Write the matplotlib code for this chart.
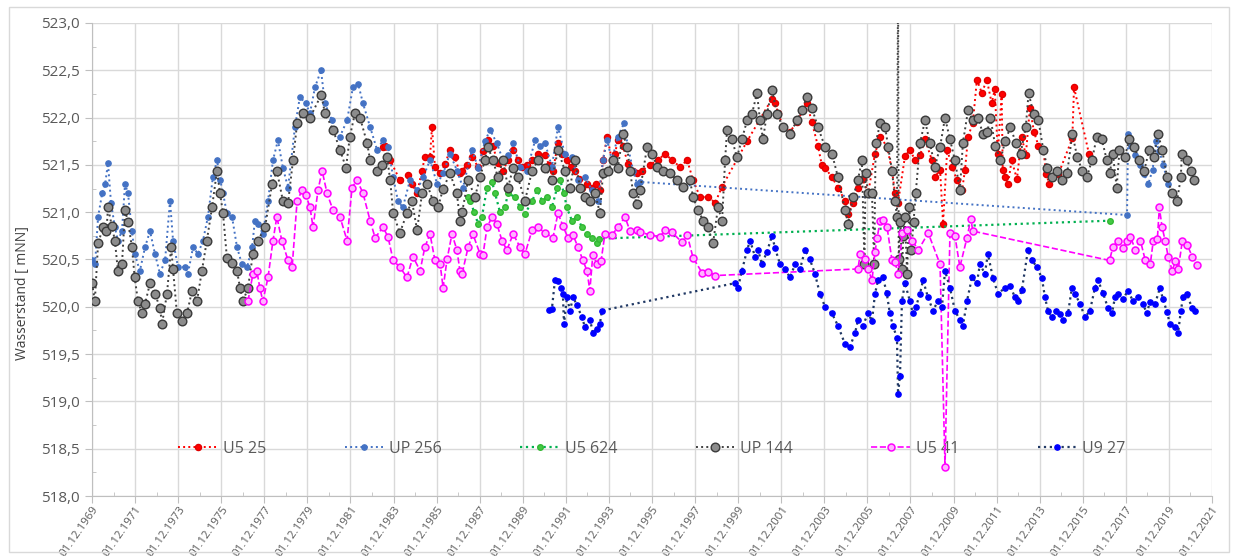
import matplotlib
matplotlib.use('Agg')
import matplotlib.pyplot as plt
from matplotlib.ticker import FixedLocator, MultipleLocator, FuncFormatter
from matplotlib.patches import Rectangle
import numpy as np

plt.rcParams['font.family'] = ['Open Sans', 'DejaVu Sans']

u5_25 = [(1983.43, 521.69), (1983.52, 521.70), (1983.76, 521.55), (1984.21, 521.34), (1984.59, 521.39),
         (1984.77, 521.30), (1985.01, 521.20), (1985.24, 521.44), (1985.37, 521.58), (1985.61, 521.58),
         (1985.70, 521.90), (1985.84, 521.48), (1986.08, 521.41), (1986.31, 521.51), (1986.54, 521.66),
         (1986.77, 521.58), (1987.00, 521.41), (1987.10, 521.44), (1987.33, 521.50), (1987.56, 521.58),
         (1987.84, 521.48), (1988.07, 521.65), (1988.30, 521.76), (1988.53, 521.70), (1988.76, 521.52),
         (1989.00, 521.44), (1989.23, 521.55), (1989.47, 521.66), (1989.69, 521.55), (1989.88, 521.48),
         (1990.11, 521.50), (1990.35, 521.55), (1990.63, 521.62), (1990.95, 521.60), (1991.14, 521.50),
         (1991.32, 521.44), (1991.55, 521.73), (1991.74, 521.62), (1991.96, 521.55), (1992.15, 521.48),
         (1992.34, 521.44), (1992.53, 521.35), (1992.67, 521.26), (1992.90, 521.30), (1993.13, 521.26),
         (1993.31, 521.30), (1993.50, 521.23), (1993.64, 521.55), (1993.83, 521.80), (1994.06, 521.55),
         (1994.20, 521.62), (1994.33, 521.76), (1994.57, 521.70), (1994.80, 521.51), (1995.04, 521.44),
         (1995.22, 521.41), (1995.45, 521.44), (1995.82, 521.50), (1996.20, 521.55), (1996.52, 521.62),
         (1996.84, 521.55), (1997.22, 521.48), (1997.55, 521.55), (1997.82, 521.34), (1998.15, 521.16),
         (1998.52, 521.16), (1998.85, 521.10), (1999.17, 521.27), (2000.33, 521.75), (2001.49, 522.20),
         (2001.63, 522.15), (2001.77, 522.05), (2002.01, 521.90), (2002.31, 521.85), (2002.66, 521.95),
         (2002.91, 522.08), (2003.11, 522.15), (2003.34, 521.95), (2003.62, 521.70), (2003.80, 521.50),
         (2003.95, 521.47), (2004.27, 521.37), (2004.55, 521.26), (2004.88, 521.12), (2005.02, 520.98),
         (2005.25, 521.10), (2005.48, 521.26), (2005.71, 521.35), (2005.95, 521.20), (2006.27, 521.62),
         (2006.51, 521.80), (2006.83, 521.69), (2007.06, 521.44), (2007.20, 521.20), (2007.34, 521.10),
         (2007.66, 521.59), (2007.89, 521.66), (2008.13, 521.55), (2008.36, 521.60), (2008.59, 521.77),
         (2008.91, 521.55), (2009.05, 521.37), (2009.29, 521.45), (2009.43, 520.88), (2009.62, 521.66),
         (2009.85, 521.48), (2010.07, 521.34), (2010.31, 521.23), (2010.45, 521.45), (2010.59, 521.80),
         (2010.81, 521.94), (2011.00, 522.40), (2011.23, 522.26), (2011.46, 522.40), (2011.69, 522.15),
         (2011.83, 522.30), (2011.97, 521.62), (2012.15, 522.25), (2012.20, 521.45), (2012.30, 521.37),
         (2012.45, 521.30), (2012.61, 521.55), (2012.86, 521.35), (2013.08, 521.80), (2013.27, 521.60),
         (2013.46, 522.10), (2013.65, 521.85), (2013.86, 521.70), (2014.08, 521.66), (2014.22, 521.40),
         (2014.36, 521.30), (2014.78, 521.40), (2015.43, 521.78), (2015.51, 522.32), (2016.20, 521.62)]

up_256 = [(1969.92, 520.49), (1970.06, 520.45), (1970.20, 520.95), (1970.39, 521.20), (1970.53, 521.30),
          (1970.66, 521.52), (1970.80, 521.10), (1970.98, 520.84), (1971.12, 520.70), (1971.31, 520.80),
          (1971.45, 521.30), (1971.59, 521.20), (1971.77, 520.80), (1971.90, 520.56), (1972.14, 520.38),
          (1972.38, 520.63), (1972.61, 520.80), (1972.84, 520.56), (1973.07, 520.35), (1973.31, 520.49),
          (1973.54, 521.12), (1973.68, 520.70), (1973.91, 520.42), (1974.23, 520.42), (1974.37, 520.35),
          (1974.61, 520.63), (1974.84, 520.56), (1975.07, 520.70), (1975.30, 520.95), (1975.53, 521.37),
          (1975.72, 521.55), (1975.87, 521.34), (1976.00, 521.20), (1976.18, 520.99), (1976.42, 520.95),
          (1976.65, 520.63), (1976.88, 520.45), (1977.12, 520.42), (1977.35, 520.63), (1977.48, 520.91),
          (1977.62, 520.88), (1977.85, 520.77), (1978.09, 521.12), (1978.32, 521.55), (1978.55, 521.76),
          (1978.78, 521.47), (1979.02, 521.26), (1979.34, 521.90), (1979.57, 522.22), (1979.83, 522.15),
          (1980.04, 522.05), (1980.27, 522.32), (1980.55, 522.50), (1980.73, 522.15), (1981.06, 521.97),
          (1981.43, 521.80), (1981.76, 521.97), (1982.03, 522.32), (1982.27, 522.36), (1982.50, 522.15),
          (1982.83, 521.90), (1983.15, 521.66), (1983.43, 521.76), (1983.66, 521.69), (1983.90, 521.37),
          (1984.12, 521.12), (1984.35, 521.05), (1984.68, 521.34), (1985.01, 521.23), (1985.29, 521.37),
          (1985.61, 521.55), (1985.94, 521.30), (1986.22, 521.41), (1986.54, 521.62), (1986.86, 521.44),
          (1987.14, 521.26), (1987.56, 521.66), (1987.84, 521.47), (1988.16, 521.75), (1988.40, 521.87),
          (1988.71, 521.73), (1989.00, 521.55), (1989.23, 521.60), (1989.47, 521.73), (1989.79, 521.48),
          (1990.11, 521.44), (1990.49, 521.76), (1990.72, 521.70), (1990.95, 521.73), (1991.27, 521.48),
          (1991.55, 521.90), (1991.87, 521.62), (1992.20, 521.58), (1992.48, 521.34), (1992.81, 521.37),
          (1993.13, 521.23), (1993.41, 521.12), (1993.64, 521.55), (1993.83, 521.76), (1994.06, 521.55),
          (1994.33, 521.80), (1994.62, 521.94), (1994.80, 521.69), (1995.04, 521.44), (1995.22, 521.30),
          (1995.36, 521.32), (2017.97, 520.97), (2018.02, 521.83), (2018.16, 521.70), (2018.36, 521.60),
          (2018.56, 521.50), (2018.76, 521.40), (2018.96, 521.30), (2019.16, 521.45), (2019.31, 521.75),
          (2019.46, 521.65), (2019.66, 521.50), (2019.86, 521.30), (2020.01, 521.20)]

u5_624 = [(1987.38, 521.16), (1987.48, 521.12), (1987.66, 521.00), (1987.84, 520.88), (1988.02, 520.95),
          (1988.26, 521.26), (1988.49, 521.32), (1988.63, 521.20), (1988.86, 521.00), (1989.09, 521.05),
          (1989.23, 521.20), (1989.56, 521.16), (1989.79, 521.05), (1990.02, 520.98), (1990.35, 521.12),
          (1990.58, 521.23), (1990.82, 521.12), (1991.05, 521.16), (1991.27, 521.05), (1991.51, 521.26),
          (1991.65, 521.34), (1991.83, 521.20), (1991.96, 521.05), (1992.20, 520.91), (1992.43, 520.95),
          (1992.67, 520.84), (1992.90, 520.77), (1993.13, 520.73), (1993.36, 520.67), (1993.45, 520.72),
          (2017.17, 520.91)]

up_144 = [(1969.92, 520.25), (1970.05, 520.06), (1970.20, 520.67), (1970.43, 520.84), (1970.59, 520.80),
          (1970.66, 521.05), (1970.84, 520.85), (1970.98, 520.70), (1971.12, 520.38), (1971.31, 520.45),
          (1971.45, 521.02), (1971.59, 520.90), (1971.77, 520.63), (1971.90, 520.31), (1972.05, 520.06),
          (1972.24, 519.93), (1972.38, 520.03), (1972.61, 520.25), (1972.84, 520.14), (1973.07, 519.99),
          (1973.17, 519.82), (1973.40, 520.14), (1973.59, 520.63), (1973.68, 520.40), (1973.86, 519.93),
          (1974.09, 519.85), (1974.33, 519.93), (1974.56, 520.17), (1974.79, 520.06), (1975.02, 520.38),
          (1975.25, 520.70), (1975.49, 521.05), (1975.72, 521.44), (1975.86, 521.20), (1976.00, 520.99),
          (1976.18, 520.52), (1976.42, 520.46), (1976.65, 520.38), (1976.79, 520.20), (1976.93, 520.06),
          (1977.16, 520.20), (1977.39, 520.56), (1977.62, 520.70), (1977.95, 520.84), (1978.28, 521.30),
          (1978.50, 521.44), (1978.78, 521.12), (1979.02, 521.10), (1979.25, 521.55), (1979.44, 521.94),
          (1979.71, 522.05), (1980.04, 522.00), (1980.56, 522.24), (1980.73, 522.05), (1981.11, 521.87),
          (1981.43, 521.66), (1981.71, 521.47), (1981.89, 521.80), (1982.13, 522.05), (1982.36, 522.00),
          (1982.69, 521.73), (1982.83, 521.55), (1983.15, 521.44), (1983.38, 521.50), (1983.62, 521.58),
          (1983.76, 521.34), (1983.90, 520.99), (1984.21, 520.78), (1984.54, 520.99), (1984.77, 521.12),
          (1985.01, 520.81), (1985.24, 521.20), (1985.47, 521.30), (1985.75, 521.12), (1985.98, 521.05),
          (1986.22, 521.25), (1986.54, 521.41), (1986.86, 521.20), (1987.00, 520.91), (1987.10, 521.00),
          (1987.38, 521.34), (1987.70, 521.16), (1987.93, 521.37), (1988.16, 521.55), (1988.30, 521.69),
          (1988.53, 521.55), (1988.76, 521.37), (1989.00, 521.55), (1989.23, 521.26), (1989.47, 521.47),
          (1989.69, 521.37), (1990.02, 521.12), (1990.35, 521.44), (1990.63, 521.55), (1990.95, 521.47),
          (1991.27, 521.34), (1991.55, 521.66), (1991.87, 521.44), (1992.11, 521.26), (1992.34, 521.55),
          (1992.58, 521.26), (1992.81, 521.16), (1993.03, 521.12), (1993.27, 521.20), (1993.50, 520.99),
          (1993.64, 521.41), (1993.88, 521.44), (1994.10, 521.55), (1994.33, 521.47), (1994.57, 521.83),
          (1994.76, 521.69), (1994.90, 521.44), (1995.04, 521.20), (1995.22, 521.09), (1995.36, 521.23),
          (1995.69, 521.69), (1995.92, 521.62), (1996.15, 521.48), (1996.42, 521.44), (1996.75, 521.41),
          (1997.08, 521.34), (1997.36, 521.27), (1997.68, 521.34), (1997.82, 521.16), (1998.06, 521.02),
          (1998.29, 520.91), (1998.52, 520.84), (1998.75, 520.67), (1998.98, 521.05), (1999.17, 520.91),
          (1999.31, 521.55), (1999.40, 521.87), (1999.63, 521.77), (1999.86, 521.58), (2000.09, 521.77),
          (2000.33, 521.97), (2000.56, 522.04), (2000.79, 522.26), (2000.93, 521.97), (2001.07, 521.77),
          (2001.25, 522.04), (2001.49, 522.29), (2001.72, 522.04), (2001.99, 521.90), (2002.32, 521.83),
          (2002.65, 521.97), (2002.88, 522.08), (2003.11, 522.22), (2003.34, 522.10), (2003.62, 521.90),
          (2003.95, 521.69), (2004.27, 521.62), (2004.55, 521.37), (2004.88, 521.02), (2005.02, 520.88),
          (2005.25, 521.16), (2005.48, 521.34), (2005.66, 521.55), (2005.78, 520.45), (2005.83, 521.41),
          (2005.95, 521.20), (2006.13, 521.20), (2006.23, 520.45), (2006.30, 521.73), (2006.51, 521.94),
          (2006.74, 521.90), (2006.88, 521.69), (2007.06, 521.44), (2007.20, 521.12), (2007.29, 520.95),
          (2007.34, 523.50), (2007.37, 520.50), (2007.45, 520.90), (2007.52, 520.40), (2007.59, 520.75),
          (2007.66, 520.95), (2007.76, 520.35), (2007.86, 521.05), (2007.96, 520.60), (2008.06, 520.90),
          (2008.16, 521.20), (2008.36, 521.73), (2008.59, 521.97), (2008.82, 521.73), (2009.05, 521.48),
          (2009.29, 521.69), (2009.52, 522.00), (2009.75, 521.77), (2009.98, 521.55), (2010.21, 521.23),
          (2010.35, 521.73), (2010.59, 522.08), (2010.81, 521.97), (2011.05, 522.00), (2011.28, 521.83),
          (2011.48, 521.85), (2011.63, 522.00), (2011.85, 521.70), (2012.09, 521.55), (2012.31, 521.75),
          (2012.56, 521.90), (2012.81, 521.73), (2013.03, 521.62), (2013.27, 521.90), (2013.40, 522.26),
          (2013.63, 522.04), (2013.86, 521.97), (2014.08, 521.66), (2014.27, 521.47), (2014.51, 521.37),
          (2014.73, 521.44), (2014.97, 521.34), (2015.19, 521.41), (2015.43, 521.83), (2015.66, 521.58),
          (2015.89, 521.44), (2016.11, 521.37), (2016.34, 521.55), (2016.57, 521.80), (2016.80, 521.77),
          (2017.03, 521.55), (2017.17, 521.41), (2017.31, 521.62), (2017.49, 521.26), (2017.62, 521.66),
          (2017.86, 521.58), (2018.08, 521.77), (2018.31, 521.69), (2018.54, 521.55), (2018.77, 521.44),
          (2019.00, 521.66), (2019.23, 521.58), (2019.41, 521.83), (2019.60, 521.66), (2019.83, 521.37),
          (2020.06, 521.20), (2020.29, 521.12), (2020.47, 521.37), (2020.51, 521.62), (2020.74, 521.55),
          (2020.92, 521.44), (2021.06, 521.34)]

u5_41 = [(1977.16, 520.06), (1977.39, 520.35), (1977.57, 520.38), (1977.71, 520.20), (1977.85, 520.06),
         (1978.09, 520.31), (1978.32, 520.70), (1978.50, 520.95), (1978.73, 520.70), (1979.02, 520.49),
         (1979.21, 520.42), (1979.44, 521.12), (1979.67, 521.23), (1979.85, 521.18), (1980.04, 521.05),
         (1980.18, 520.84), (1980.41, 521.23), (1980.60, 521.44), (1980.83, 521.20), (1981.11, 521.02),
         (1981.43, 520.95), (1981.76, 520.70), (1981.99, 521.26), (1982.22, 521.34), (1982.50, 521.20),
         (1982.83, 520.91), (1983.06, 520.73), (1983.43, 520.84), (1983.66, 520.74), (1983.90, 520.49),
         (1984.21, 520.42), (1984.54, 520.31), (1984.82, 520.53), (1985.15, 520.38), (1985.37, 520.63),
         (1985.61, 520.77), (1985.84, 520.49), (1986.08, 520.45), (1986.22, 520.20), (1986.40, 520.50),
         (1986.63, 520.77), (1986.86, 520.60), (1987.00, 520.38), (1987.10, 520.35), (1987.38, 520.63),
         (1987.60, 520.77), (1987.93, 520.56), (1988.07, 520.55), (1988.26, 520.84), (1988.49, 520.95),
         (1988.71, 520.88), (1988.95, 520.70), (1989.18, 520.60), (1989.47, 520.77), (1989.79, 520.63),
         (1990.02, 520.56), (1990.35, 520.81), (1990.63, 520.84), (1990.95, 520.78), (1991.32, 520.73),
         (1991.55, 520.99), (1991.79, 520.85), (1992.01, 520.73), (1992.25, 520.76), (1992.48, 520.63),
         (1992.71, 520.49), (1992.90, 520.38), (1993.03, 520.17), (1993.17, 520.55), (1993.36, 520.45),
         (1993.55, 520.48), (1993.73, 520.77), (1994.06, 520.76), (1994.33, 520.84), (1994.66, 520.95),
         (1994.90, 520.80), (1995.22, 520.81), (1995.36, 520.79), (1995.82, 520.76), (1996.29, 520.74),
         (1996.52, 520.81), (1996.84, 520.79), (1997.31, 520.68), (1997.55, 520.76), (1997.82, 520.52),
         (1998.24, 520.36), (1998.52, 520.37), (1998.85, 520.33), (2005.48, 520.40), (2005.58, 520.56),
         (2005.80, 520.50), (2005.95, 520.40), (2006.13, 520.28), (2006.27, 520.58), (2006.37, 520.73),
         (2006.51, 520.91), (2006.65, 520.92), (2006.83, 520.84), (2007.06, 520.49), (2007.20, 520.47),
         (2007.34, 520.35), (2007.54, 520.78), (2007.77, 520.81), (2008.00, 520.70), (2008.28, 520.60),
         (2008.74, 520.78), (2009.29, 520.45), (2009.52, 518.31), (2009.75, 520.78), (2009.98, 520.75),
         (2010.21, 520.42), (2010.54, 520.73), (2010.72, 520.93), (2010.81, 520.80), (2017.16, 520.49),
         (2017.31, 520.63), (2017.54, 520.70), (2017.78, 520.62), (2017.99, 520.70), (2018.13, 520.74),
         (2018.36, 520.60), (2018.59, 520.70), (2018.82, 520.49), (2019.05, 520.45), (2019.19, 520.70),
         (2019.38, 520.72), (2019.47, 521.05), (2019.60, 520.84), (2019.74, 520.70), (2019.88, 520.53),
         (2020.07, 520.38), (2020.21, 520.48), (2020.35, 520.40), (2020.54, 520.70), (2020.77, 520.65),
         (2021.00, 520.53), (2021.23, 520.44)]

u9_27 = [(1991.13, 519.97), (1991.27, 519.98), (1991.41, 520.28), (1991.55, 520.27), (1991.69, 520.20),
         (1991.78, 520.13), (1991.83, 519.82), (1991.97, 520.10), (1992.11, 519.96), (1992.25, 520.10),
         (1992.43, 520.02), (1992.66, 519.89), (1992.80, 519.79), (1993.04, 519.86), (1993.18, 519.72),
         (1993.36, 519.77), (1993.50, 519.82), (1993.59, 519.96), (1999.77, 520.25), (1999.91, 520.20),
         (2000.09, 520.38), (2000.33, 520.60), (2000.47, 520.70), (2000.70, 520.53), (2000.84, 520.60),
         (2001.02, 520.45), (2001.25, 520.58), (2001.49, 520.75), (2001.63, 520.62), (2001.86, 520.45),
         (2002.09, 520.40), (2002.32, 520.31), (2002.56, 520.45), (2002.79, 520.40), (2003.02, 520.60),
         (2003.25, 520.50), (2003.48, 520.35), (2003.71, 520.14), (2003.95, 520.00), (2004.27, 519.93),
         (2004.55, 519.80), (2004.87, 519.61), (2005.11, 519.58), (2005.34, 519.72), (2005.48, 519.86),
         (2005.71, 519.80), (2005.94, 519.93), (2006.13, 519.85), (2006.27, 520.14), (2006.41, 520.28),
         (2006.64, 520.31), (2006.81, 520.15), (2006.96, 519.93), (2007.10, 519.80), (2007.29, 519.67),
         (2007.34, 519.08), (2007.43, 519.27), (2007.52, 520.06), (2007.66, 520.25), (2007.89, 520.06),
         (2008.03, 519.93), (2008.17, 520.00), (2008.36, 520.14), (2008.50, 520.28), (2008.73, 520.10),
         (2008.96, 519.96), (2009.19, 520.06), (2009.38, 520.00), (2009.52, 520.38), (2009.75, 520.20),
         (2009.98, 519.96), (2010.21, 519.86), (2010.35, 519.80), (2010.54, 520.06), (2010.77, 520.31),
         (2011.00, 520.25), (2011.14, 520.45), (2011.37, 520.35), (2011.51, 520.56), (2011.75, 520.30),
         (2011.98, 520.14), (2012.31, 520.20), (2012.54, 520.22), (2012.77, 520.10), (2012.91, 520.06),
         (2013.09, 520.18), (2013.37, 520.60), (2013.56, 520.49), (2013.79, 520.42), (2014.02, 520.30),
         (2014.16, 520.10), (2014.30, 519.96), (2014.48, 519.89), (2014.67, 519.96), (2014.86, 519.92),
         (2015.00, 519.86), (2015.23, 519.93), (2015.41, 520.20), (2015.55, 520.14), (2015.79, 520.03),
         (2016.02, 519.89), (2016.25, 519.96), (2016.48, 520.20), (2016.62, 520.28), (2016.85, 520.15),
         (2017.08, 519.99), (2017.27, 519.93), (2017.41, 520.10), (2017.55, 520.14), (2017.78, 520.08),
         (2018.01, 520.17), (2018.25, 520.06), (2018.48, 520.10), (2018.71, 520.03), (2018.89, 519.93),
         (2019.03, 520.05), (2019.27, 520.03), (2019.50, 520.20), (2019.64, 520.08), (2019.82, 519.95),
         (2019.96, 519.82), (2020.20, 519.79), (2020.34, 519.72), (2020.47, 519.96), (2020.57, 520.10),
         (2020.75, 520.14), (2020.98, 519.99), (2021.12, 519.96)]

tick_years = list(range(1969, 2022, 2))

fig = plt.figure(figsize=(12.33, 5.59), dpi=100)
ax = fig.add_axes([0.0746, 0.1127, 0.9084, 0.8462])

# Rahmen des Diagrammbereichs
fig.patches.append(Rectangle((0.007, 0.012), 0.99, 0.975, transform=fig.transFigure,
                             fill=False, edgecolor='#D9D9D9', linewidth=1.0))

def xy(data):
    return [d[0] for d in data], [d[1] for d in data]

x, y = xy(u5_25)
ax.plot(x, y, ls=':', lw=1.4, color='#FF0000', marker='o', ms=4.4, mfc='#FF0000', mec='#E00000', label='U5 25', zorder=3)
x, y = xy(up_256)
ax.plot(x, y, ls=':', lw=1.4, color='#4472C4', marker='o', ms=3.8, mfc='#4472C4', mec='#4472C4', label='UP 256', zorder=4)
x, y = xy(u5_624)
ax.plot(x, y, ls=':', lw=1.6, color='#00B050', marker='o', ms=4.0, mfc='#44C944', mec='#33B833', label='U5 624', zorder=5)
x, y = xy(up_144)
ax.plot(x, y, ls=':', lw=1.4, color='#404040', marker='o', ms=6.2, mfc='#8C8C8C', mec='#3A3A3A', mew=1.0, label='UP 144', zorder=6)
x, y = xy(u5_41)
ax.plot(x, y, ls='--', lw=1.2, color='#FF00FF', marker='o', ms=5.0, mfc='#FFB3FF', mec='#FF00FF', mew=1.1, label='U5 41', zorder=7)
x, y = xy(u9_27)
ax.plot(x, y, ls=':', lw=1.6, color='#203864', marker='o', ms=3.8, mfc='#0000FF', mec='#0000FF', label='U9 27', zorder=8)

ax.set_xlim(1969.917, 2021.917)
ax.set_ylim(518.0, 523.0)

ax.xaxis.set_major_locator(FixedLocator([t + 0.917 for t in tick_years]))
ax.xaxis.set_minor_locator(FixedLocator([t + 1.917 for t in tick_years[:-1]]))
ax.xaxis.set_major_formatter(FuncFormatter(lambda v, p: '01.12.%d' % int(np.floor(v))))
ax.yaxis.set_major_locator(MultipleLocator(0.5))
ax.yaxis.set_minor_locator(MultipleLocator(0.25))
ax.yaxis.set_major_formatter(FuncFormatter(lambda v, p: ('%.1f' % v).replace('.', ',')))

ax.grid(True, which='major', color='#D9D9D9', lw=1.0, zorder=0)
ax.set_axisbelow(True)
for s in ['top', 'right']:
    ax.spines[s].set_visible(False)
for s in ['left', 'bottom']:
    ax.spines[s].set_color('#BFBFBF')

ax.tick_params(axis='both', which='major', direction='out', length=5, color='#BFBFBF', labelcolor='#595959')
ax.tick_params(axis='both', which='minor', direction='in', length=3, color='#BFBFBF')
ax.tick_params(axis='y', labelsize=11)
ax.tick_params(axis='x', labelsize=8.2, pad=1.0)
for lab in ax.get_xticklabels():
    lab.set_rotation(55)
    lab.set_ha('right')
    lab.set_va('top')
    lab.set_rotation_mode('anchor')

ax.set_ylabel('Wasserstand [ mNN]', fontsize=10, color='#404040')
ax.yaxis.set_label_coords(-0.055, 0.43)

leg = ax.legend(loc='center', bbox_to_anchor=(0.5, 0.1), ncol=6, frameon=False, fontsize=11.5,
                handlelength=2.4, handletextpad=0.4, columnspacing=4.9, numpoints=1)
for t in leg.get_texts():
    t.set_color('#595959')

fig.savefig('out.png', dpi=100)
